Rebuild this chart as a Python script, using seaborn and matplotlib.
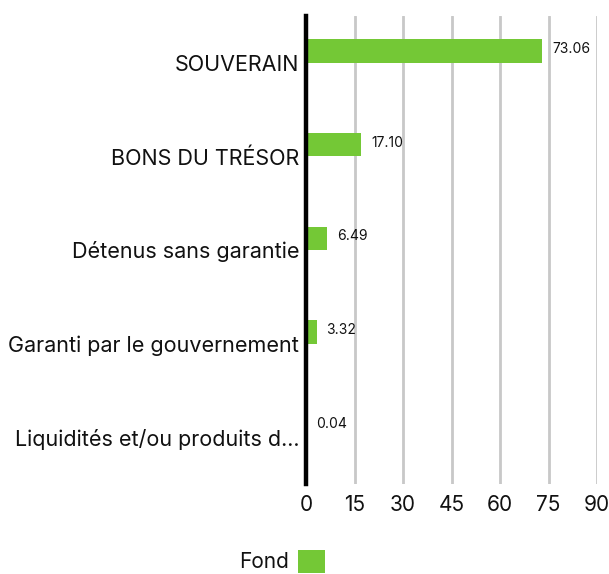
import matplotlib
matplotlib.use("Agg")
import matplotlib.pyplot as plt
import seaborn as sns
import pandas as pd
from matplotlib.patches import Patch

categories = ["SOUVERAIN", "BONS DU TRÉSOR", "Détenus sans garantie",
              "Garanti par le gouvernement", "Liquidités et/ou produits d..."]
values = [73.06, 17.10, 6.49, 3.32, 0.04]
series_name = "Fond"
xticks = [0, 15, 30, 45, 60, 75, 90]

GREEN = "#74c836"

sns.set_theme(style="white")
plt.rcParams['font.family'] = ['Inter', 'DejaVu Sans']

df = pd.DataFrame({"cat": categories, "val": values})

fig = plt.figure(figsize=(6.09, 5.74), dpi=100)
ax = fig.add_axes([0.5025, 0.157, 0.9803 - 0.5025, 0.815])

sns.barplot(data=df, x="val", y="cat", orient="y", color=GREEN, saturation=1,
            width=0.25, ax=ax, edgecolor="none")
# bars sit in the upper half of each band
for p in ax.patches:
    p.set_y(p.get_y() - p.get_height() / 2)

ax.set_xlim(0, 90)
ax.set_ylim(4.5, -0.5)
ax.set_xticks(xticks)
ax.set_xticklabels([str(t) for t in xticks], fontsize=15, color="#111111")
ax.tick_params(axis="y", labelsize=15.5, labelcolor="#111111", length=0, pad=5)
ax.tick_params(axis="x", length=0, pad=8)
ax.set_xlabel("")
ax.set_ylabel("")

for x in xticks[1:]:
    ax.axvline(x, color="#c8c8c8", lw=2, zorder=0)

for s in ["top", "right", "bottom"]:
    ax.spines[s].set_visible(False)
ax.spines["left"].set_color("black")
ax.spines["left"].set_linewidth(3.2)
ax.spines["left"].set_zorder(5)

for p, v in zip(ax.patches, values):
    ax.text(p.get_width() + 3, p.get_y() + p.get_height() / 2 - 0.02, f"{v:.2f}",
            fontsize=10, va="center", ha="left", color="#111111")

handle = Patch(facecolor=GREEN, edgecolor="none")
fig.legend([handle], [series_name], loc="center", bbox_to_anchor=(0.463, 0.022),
           frameon=False, markerfirst=False, fontsize=15, handlelength=1.3,
           handleheight=1.3, handletextpad=0.4, labelcolor="#111111")

fig.savefig("out.png", dpi=100)
